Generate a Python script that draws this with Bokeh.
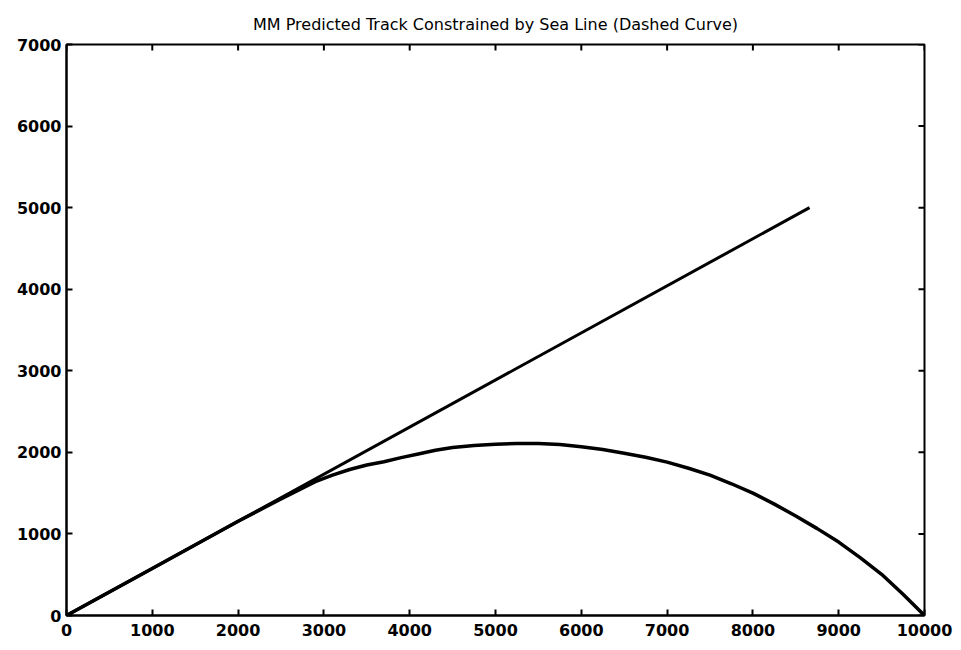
import math
from bokeh.plotting import figure
from bokeh.models import Range1d, FixedTicker
from bokeh.embed import file_html
from bokeh.resources import INLINE

# Straight predicted track
track_x = [0, 8660]
track_y = [0, 5000]

# Track constrained by the sea line
curve_x = [0, 1000, 2000, 2500, 2900, 3100, 3300, 3500, 3700, 3900, 4100, 4300,
           4500, 4750, 5000, 5250, 5500, 5750, 6000, 6250, 6500, 6750, 7000,
           7250, 7500, 7750, 8000, 8250, 8500, 8750, 9000, 9250, 9500, 9750, 10000]
curve_y = [0, 577, 1155, 1430, 1640, 1720, 1790, 1845, 1885, 1935, 1980, 2025,
           2060, 2085, 2100, 2110, 2110, 2095, 2070, 2035, 1990, 1940, 1880,
           1805, 1720, 1615, 1500, 1365, 1220, 1065, 900, 710, 505, 260, 0]

x_ticks = [0, 1000, 2000, 3000, 4000, 5000, 6000, 7000, 8000, 9000, 10000]
y_ticks = [0, 1000, 2000, 3000, 4000, 5000, 6000, 7000]

FONT = "DejaVu Sans"

p = figure(width=961, height=650, output_backend="svg", toolbar_location=None,
           x_range=Range1d(0, 10000), y_range=Range1d(0, 7000),
           title="MM Predicted Track Constrained by Sea Line (Dashed Curve)",
           min_border_left=66, min_border_right=37, min_border_top=44,
           min_border_bottom=35)

p.title.align = "center"
p.title.vertical_align = "top"
p.title.standoff = 18
p.title.text_font = FONT
p.title.text_font_size = "16px"
p.title.text_font_style = "normal"
p.title.text_color = "black"

p.xgrid.visible = False
p.ygrid.visible = False
p.outline_line_color = "black"
p.outline_line_width = 2
p.background_fill_color = "white"
p.border_fill_color = "white"

for ax in (p.xaxis[0], p.yaxis[0]):
    ax.major_tick_in = 6
    ax.major_tick_out = 0
    ax.minor_tick_in = 0
    ax.minor_tick_out = 0
    ax.axis_line_color = "black"
    ax.axis_line_width = 2
    ax.major_tick_line_width = 2
    ax.major_tick_line_color = "black"
    ax.major_label_text_font = FONT
    ax.major_label_text_font_size = "16px"
    ax.major_label_text_font_style = "bold"
    ax.major_label_text_color = "black"

p.xaxis[0].ticker = FixedTicker(ticks=x_ticks)
p.yaxis[0].ticker = FixedTicker(ticks=y_ticks)
p.xaxis[0].major_label_standoff = 8
p.yaxis[0].major_label_standoff = 5

# inward ticks on the top and right edges of the frame
p.ray(x=x_ticks, y=[y_ticks[-1]] * len(x_ticks), length=6, length_units="screen",
      angle=-math.pi / 2, line_color="black", line_width=2)
p.ray(x=[x_ticks[-1]] * len(y_ticks), y=y_ticks, length=6, length_units="screen",
      angle=math.pi, line_color="black", line_width=2)

p.line(track_x, track_y, line_color="black", line_width=3)
p.line(curve_x, curve_y, line_color="black", line_width=3.5, line_join="round")

open("out.html", "w").write(file_html(p, INLINE))
